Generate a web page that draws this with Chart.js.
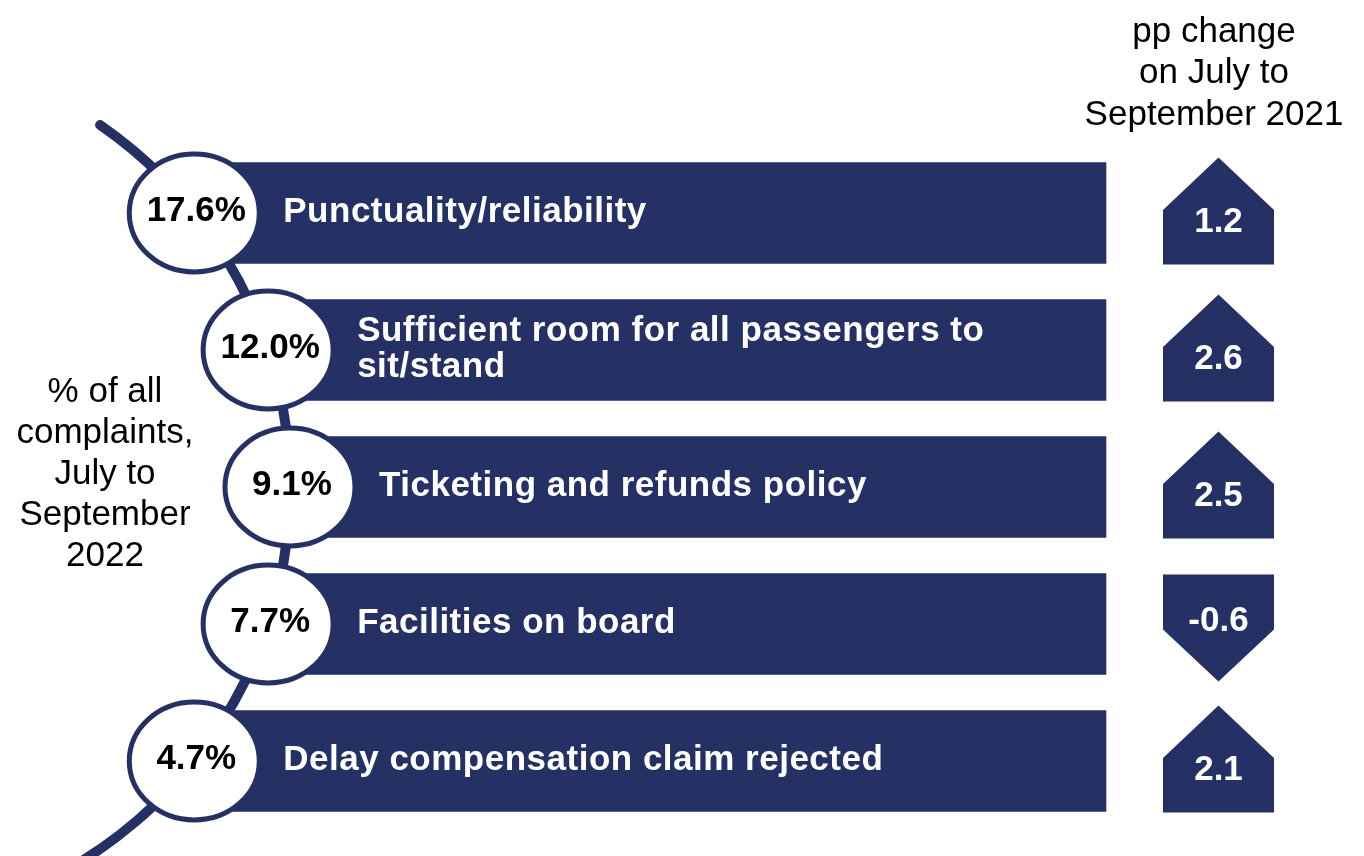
<!DOCTYPE html>
<html>
<head>
<meta charset="utf-8">
<title>Complaints by category</title>
<script src="https://cdn.jsdelivr.net/npm/chart.js@4.4.0/dist/chart.umd.min.js"></script>
<style>
  html, body { margin: 0; padding: 0; background: #fff; }
  #wrap { position: relative; width: 1364px; height: 856px; }
</style>
</head>
<body>
<div id="wrap"><canvas id="complaints"></canvas></div>
<script>
const categories = [
  'Punctuality/reliability',
  ['Sufficient room for all passengers to', 'sit/stand'],
  'Ticketing and refunds policy',
  'Facilities on board',
  'Delay compensation claim rejected'
];
const shareOfComplaints = [17.6, 12.0, 9.1, 7.7, 4.7];  // % of all complaints, Jul-Sep 2022
const ppChange = [1.2, 2.6, 2.5, -0.6, 2.1];              // pp change on Jul-Sep 2021
const leftTitle = ['% of all', 'complaints,', 'July to', 'September', '2022'];
const rightTitle = ['pp change', 'on July to', 'September 2021'];

// Layout
const NAVY = '#253165';
const FONT = "'Liberation Sans', Arial, sans-serif";
const PAD_TOP = 144.5;
const PAD_BOTTOM = 26.5;
const ROW = (856 - PAD_TOP - PAD_BOTTOM) / categories.length;
const BAR_END = 1106;
const BAR_THICKNESS = 101;
const ARC_R = 440;
const ARC_PEAK_X = 290;
const ARROW_X = 1218.5;
const ARROW_HALF = 55.5;

// x position of a bubble sitting on the arc, dy pixels from the arc's middle
function arcX(dy) {
  return ARC_PEAK_X - ARC_R + Math.sqrt(ARC_R * ARC_R - dy * dy);
}
const mid = (categories.length - 1) / 2;
const barData = categories.map((c, i) => [arcX((i - mid) * ROW), BAR_END]);

const decorations = {
  id: 'decorations',
  beforeDatasetsDraw(chart) {
    const ctx = chart.ctx;
    const yScale = chart.scales.y;
    const cy = yScale.getPixelForValue(mid);
    const cx = ARC_PEAK_X - ARC_R;
    ctx.save();
    ctx.strokeStyle = NAVY;
    ctx.lineWidth = 10;
    ctx.lineCap = 'round';
    ctx.beginPath();
    ctx.arc(cx, cy, ARC_R, Math.asin((125 - cy) / ARC_R), Math.asin(0.9));
    ctx.stroke();
    ctx.restore();
  },
  afterDatasetsDraw(chart) {
    const ctx = chart.ctx;
    const yScale = chart.scales.y;
    const meta = chart.getDatasetMeta(0);
    const cy = yScale.getPixelForValue(mid);
    ctx.save();

    meta.data.forEach((bar, i) => {
      const y = yScale.getPixelForValue(i);
      const x = arcX(y - cy);
      const top = bar.y - bar.height / 2;
      const bottom = bar.y + bar.height / 2;

      // bubble with the share
      ctx.beginPath();
      ctx.ellipse(x, y, 65, 59, 0, 0, Math.PI * 2);
      ctx.fillStyle = '#fff';
      ctx.fill();
      ctx.lineWidth = 5;
      ctx.strokeStyle = NAVY;
      ctx.stroke();

      ctx.fillStyle = '#000';
      ctx.font = 'bold 35px ' + FONT;
      ctx.textAlign = 'center';
      ctx.textBaseline = 'middle';
      ctx.fillText(shareOfComplaints[i].toFixed(1) + '%', x + 2, y - 2);

      // category label
      const lines = Array.isArray(categories[i]) ? categories[i] : [categories[i]];
      ctx.fillStyle = '#fff';
      ctx.textAlign = 'left';
      ctx.letterSpacing = '0.5px';
      lines.forEach((t, k) => {
        ctx.fillText(t, x + 89, y - 1 + (k - (lines.length - 1) / 2) * 36);
      });
      ctx.letterSpacing = '0px';

      // pp change arrow
      const v = ppChange[i];
      const h = ARROW_HALF;
      let textY;
      ctx.beginPath();
      if (v >= 0) {
        const b = bottom + 1, apex = top - 5, sh = (apex + b) / 2 - 1;
        ctx.moveTo(ARROW_X - h, b);
        ctx.lineTo(ARROW_X - h, sh);
        ctx.lineTo(ARROW_X, apex);
        ctx.lineTo(ARROW_X + h, sh);
        ctx.lineTo(ARROW_X + h, b);
        textY = sh + 12;
      } else {
        const t = top + 1, apex = bottom + 7, sh = t + 55;
        ctx.moveTo(ARROW_X - h, t);
        ctx.lineTo(ARROW_X + h, t);
        ctx.lineTo(ARROW_X + h, sh);
        ctx.lineTo(ARROW_X, apex);
        ctx.lineTo(ARROW_X - h, sh);
        textY = sh - 8;
      }
      ctx.closePath();
      ctx.fillStyle = NAVY;
      ctx.fill();
      ctx.fillStyle = '#fff';
      ctx.textAlign = 'center';
      ctx.fillText(v.toFixed(1), ARROW_X, textY);
    });

    // titles
    ctx.fillStyle = '#000';
    ctx.font = '35px ' + FONT;
    ctx.textAlign = 'center';
    ctx.textBaseline = 'middle';
    leftTitle.forEach((t, k) => ctx.fillText(t, 105, 392 + k * 41.2));
    rightTitle.forEach((t, k) => ctx.fillText(t, 1214, 32 + k * 41.5));
    ctx.restore();
  }
};

new Chart(document.getElementById('complaints'), {
  type: 'bar',
  data: {
    labels: categories,
    datasets: [{
      data: barData,
      backgroundColor: NAVY,
      borderWidth: 0,
      barThickness: BAR_THICKNESS
    }]
  },
  options: {
    indexAxis: 'y',
    responsive: true,
    maintainAspectRatio: false,
    animation: false,
    events: [],
    layout: { padding: { top: PAD_TOP, bottom: PAD_BOTTOM, left: 0, right: 0 } },
    scales: {
      x: { type: 'linear', min: 0, max: 1364, display: false },
      y: { type: 'category', display: false, offset: true }
    },
    plugins: {
      legend: { display: false },
      tooltip: { enabled: false }
    }
  },
  plugins: [decorations]
});
</script>
</body>
</html>
